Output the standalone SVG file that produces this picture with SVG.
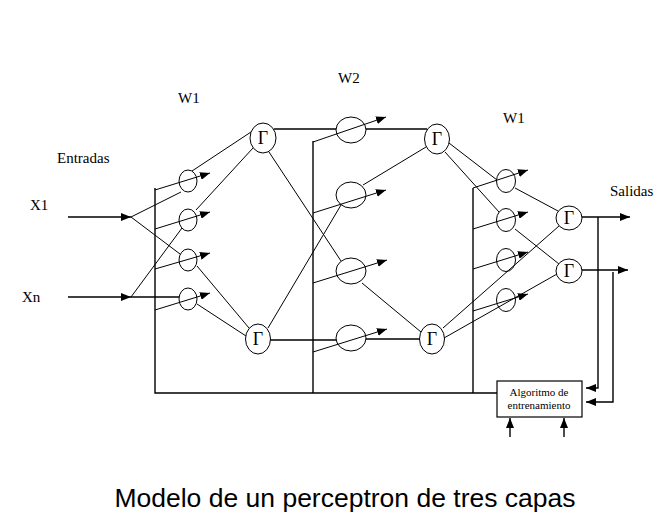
<svg xmlns="http://www.w3.org/2000/svg" width="661" height="527" viewBox="0 0 661 527">
<style>
.ln{stroke:#000;stroke-width:1;fill:none}
.st{stroke:#000;stroke-width:1.4;fill:none}
.w{stroke:#000;stroke-width:1;fill:none}
.g{stroke:#000;stroke-width:1;fill:#fff}
.gt{font-family:"Liberation Serif",serif;font-size:18px;text-anchor:middle}
.lb{font-family:"Liberation Serif",serif;font-size:15px}
.bx{font-family:"Liberation Serif",serif;font-size:11px;text-anchor:middle}
.tt{font-family:"Liberation Sans",Arial,sans-serif;font-size:26.5px;text-anchor:middle}
</style>
<defs>
<marker id="ah" markerUnits="userSpaceOnUse" markerWidth="11" markerHeight="8" refX="10" refY="4" orient="auto">
<path d="M0,0 L10,4 L0,8 z" fill="#000"/>
</marker>
</defs>
<rect width="661" height="527" fill="#fff"/>

<g id="connectors">
<!-- inputs -->
<line class="st" x1="68" y1="217" x2="131" y2="217" marker-end="url(#ah)"/>
<line class="st" x1="68" y1="297" x2="131" y2="297" marker-end="url(#ah)"/>
<line class="ln" x1="131" y1="217" x2="181" y2="192"/>
<line class="ln" x1="131" y1="217" x2="180" y2="254"/>
<line class="ln" x1="131" y1="297" x2="182" y2="228"/>
<line class="st" x1="131" y1="297" x2="179" y2="297"/>
<!-- bias/feedback verticals -->
<polyline class="st" points="155,188 155,393 497,393"/>
<line class="st" x1="313" y1="141" x2="313" y2="393"/>
<line class="st" x1="473" y1="188" x2="473" y2="393"/>
<!-- weight lines W1 -->
<line class="ln" x1="155" y1="190" x2="210" y2="173" marker-end="url(#ah)"/>
<line class="ln" x1="155" y1="229" x2="210" y2="212" marker-end="url(#ah)"/>
<line class="ln" x1="155" y1="269" x2="210" y2="253" marker-end="url(#ah)"/>
<line class="ln" x1="155" y1="310" x2="210" y2="293" marker-end="url(#ah)"/>
<!-- W1 to layer 1 gammas -->
<line class="ln" x1="192" y1="171" x2="251" y2="132"/>
<line class="ln" x1="196" y1="210" x2="253" y2="148"/>
<line class="ln" x1="197" y1="266" x2="249" y2="328"/>
<line class="ln" x1="197" y1="304" x2="246" y2="336"/>
<!-- layer 1 gammas to W2 -->
<line class="st" x1="274" y1="129" x2="336" y2="129"/>
<line class="ln" x1="269" y1="152" x2="341" y2="261"/>
<line class="ln" x1="268" y1="328" x2="341" y2="205"/>
<line class="st" x1="270" y1="340" x2="336" y2="340"/>
<!-- weight lines W2 -->
<line class="ln" x1="313" y1="142" x2="386" y2="117" marker-end="url(#ah)"/>
<line class="ln" x1="313" y1="213" x2="386" y2="190" marker-end="url(#ah)"/>
<line class="ln" x1="313" y1="283" x2="387" y2="260" marker-end="url(#ah)"/>
<line class="ln" x1="313" y1="352" x2="387" y2="329" marker-end="url(#ah)"/>
<!-- W2 to layer 2 gammas -->
<line class="st" x1="366" y1="129" x2="427" y2="129"/>
<line class="ln" x1="363" y1="185" x2="426" y2="147"/>
<line class="ln" x1="362" y1="283" x2="421" y2="332"/>
<line class="st" x1="366" y1="339" x2="420" y2="339"/>
<!-- layer 2 gammas to W1' -->
<line class="ln" x1="449" y1="143" x2="497" y2="180"/>
<line class="ln" x1="445" y1="152" x2="499" y2="212"/>
<line class="ln" x1="443" y1="328" x2="559" y2="226"/>
<line class="ln" x1="444" y1="338" x2="557" y2="274"/>
<!-- weight lines W1' -->
<line class="ln" x1="473" y1="188" x2="528" y2="170" marker-end="url(#ah)"/>
<line class="ln" x1="473" y1="229" x2="528" y2="212" marker-end="url(#ah)"/>
<line class="ln" x1="473" y1="269" x2="528" y2="252" marker-end="url(#ah)"/>
<line class="ln" x1="473" y1="311" x2="528" y2="294" marker-end="url(#ah)"/>
<!-- W1' to outputs -->
<line class="ln" x1="515" y1="188" x2="558" y2="211"/>
<line class="ln" x1="515" y1="229" x2="559" y2="264"/>
<!-- outputs -->
<line class="st" x1="582" y1="217" x2="630" y2="217" marker-end="url(#ah)"/>
<line class="st" x1="582" y1="270" x2="628" y2="270" marker-end="url(#ah)"/>
<polyline class="st" points="598,217 598,388 586,388" marker-end="url(#ah)"/>
<polyline class="st" points="613,272 613,402 586,402" marker-end="url(#ah)"/>
<line class="st" x1="510" y1="437" x2="510" y2="418" marker-end="url(#ah)"/>
<line class="st" x1="564" y1="437" x2="564" y2="418" marker-end="url(#ah)"/>
</g>

<g id="w1-weights">
<ellipse class="w" cx="188" cy="181" rx="9" ry="11"/>
<ellipse class="w" cx="188" cy="220" rx="9" ry="11"/>
<ellipse class="w" cx="188" cy="260" rx="9" ry="11"/>
<ellipse class="w" cx="188" cy="299" rx="9" ry="11"/>
</g>
<g id="w2-weights">
<ellipse class="w" cx="351" cy="130" rx="15" ry="13"/>
<ellipse class="w" cx="351" cy="195" rx="15" ry="13"/>
<ellipse class="w" cx="351" cy="271" rx="15" ry="13"/>
<ellipse class="w" cx="351" cy="338" rx="15" ry="13"/>
</g>
<g id="w3-weights">
<ellipse class="w" cx="506" cy="181" rx="9.5" ry="11.5"/>
<ellipse class="w" cx="506" cy="220" rx="9.5" ry="11.5"/>
<ellipse class="w" cx="506" cy="260" rx="9.5" ry="11.5"/>
<ellipse class="w" cx="506" cy="300" rx="9.5" ry="11.5"/>
</g>

<g id="g1"><ellipse class="g" cx="263" cy="138" rx="13" ry="15"/><text class="gt" x="263" y="144">Γ</text></g>
<g id="g2"><ellipse class="g" cx="258" cy="339" rx="12.5" ry="15"/><text class="gt" x="258" y="345">Γ</text></g>
<g id="g3"><ellipse class="g" cx="437" cy="139" rx="12.5" ry="15"/><text class="gt" x="437" y="145">Γ</text></g>
<g id="g4"><ellipse class="g" cx="432" cy="339" rx="12.5" ry="15"/><text class="gt" x="432" y="345">Γ</text></g>
<g id="g5"><ellipse class="g" cx="569" cy="218" rx="13" ry="12"/><text class="gt" x="569" y="224">Γ</text></g>
<g id="g6"><ellipse class="g" cx="569" cy="271" rx="13" ry="12"/><text class="gt" x="569" y="277">Γ</text></g>

<g id="trainer">
<rect x="497" y="381" width="85" height="36" fill="#fff" stroke="#000" stroke-width="1.2"/>
<text class="bx" x="539" y="396">Algoritmo de</text>
<text class="bx" x="539" y="409">entrenamiento</text>
</g>

<g id="labels">
<text class="lb" x="178" y="103">W1</text>
<text class="lb" x="338" y="83">W2</text>
<text class="lb" x="503" y="123">W1</text>
<text class="lb" x="57" y="163">Entradas</text>
<text class="lb" x="30" y="210">X1</text>
<text class="lb" x="22" y="302">Xn</text>
<text class="lb" x="610" y="196">Salidas</text>
<text class="tt" x="345" y="507">Modelo de un perceptron de tres capas</text>
</g>
</svg>
